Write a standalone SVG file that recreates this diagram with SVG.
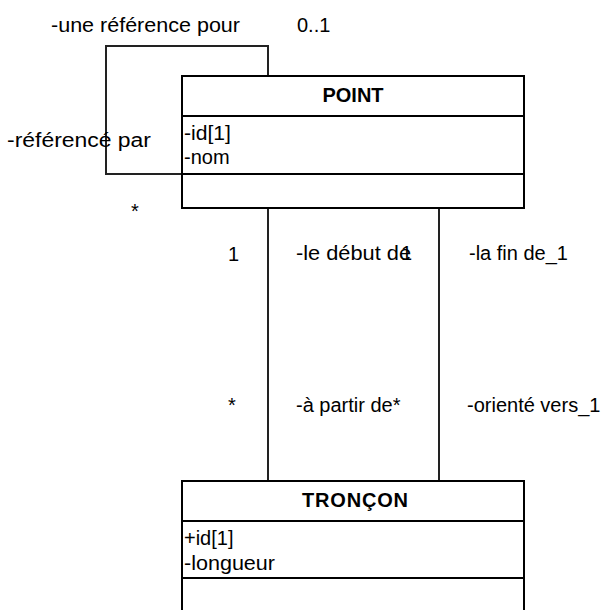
<svg xmlns="http://www.w3.org/2000/svg" width="610" height="610" viewBox="0 0 610 610">
  <style>
    text { font-family: "Liberation Sans", Arial, sans-serif; font-size: 20px; fill: #000; }
    .title { font-weight: bold; text-anchor: middle; }
    .box { fill: #fff; stroke: #000; stroke-width: 2; }
    .div { stroke: #000; stroke-width: 2; }
    .conn { fill: none; stroke: #222; stroke-width: 2; }
  </style>
  <rect width="610" height="610" fill="#fff"/>

  <!-- associations -->
  <g id="connectors">
    <path class="conn" d="M268 76 V46 H106 V174 H182"/>
    <line class="conn" x1="268" y1="208" x2="268" y2="481"/>
    <line class="conn" x1="439" y1="208" x2="439" y2="481"/>
  </g>

  <!-- role names and multiplicities -->
  <g id="labels">
    <text x="51" y="32" textLength="189" lengthAdjust="spacingAndGlyphs">-une référence pour</text>
    <text x="297" y="32">0..1</text>
    <text x="7" y="147" textLength="144" lengthAdjust="spacingAndGlyphs">-référencé par</text>
    <text x="131" y="218">*</text>
    <text x="228" y="261">1</text>
    <text x="296" y="260" textLength="115" lengthAdjust="spacingAndGlyphs">-le début de</text>
    <text x="401" y="260">1</text>
    <text x="469" y="260">-la fin de_1</text>
    <text x="228" y="412">*</text>
    <text x="296" y="412">-à partir de*</text>
    <text x="467" y="412">-orienté vers_1</text>
  </g>

  <g id="point">
    <rect class="box" x="182" y="76" width="342" height="132"/>
    <line class="div" x1="182" y1="116" x2="524" y2="116"/>
    <line class="div" x1="182" y1="174" x2="524" y2="174"/>
    <text class="title" x="353" y="102">POINT</text>
    <text x="184" y="140" textLength="47" lengthAdjust="spacingAndGlyphs">-id[1]</text>
    <text x="184" y="164">-nom</text>
  </g>

  <g id="troncon">
    <rect class="box" x="182" y="481" width="342" height="140"/>
    <line class="div" x1="182" y1="521" x2="524" y2="521"/>
    <line class="div" x1="182" y1="578" x2="524" y2="578"/>
    <text class="title" x="355" y="507" textLength="106" lengthAdjust="spacing">TRONÇON</text>
    <text x="184" y="545">+id[1]</text>
    <text x="184" y="570" textLength="91" lengthAdjust="spacingAndGlyphs">-longueur</text>
  </g>
</svg>
